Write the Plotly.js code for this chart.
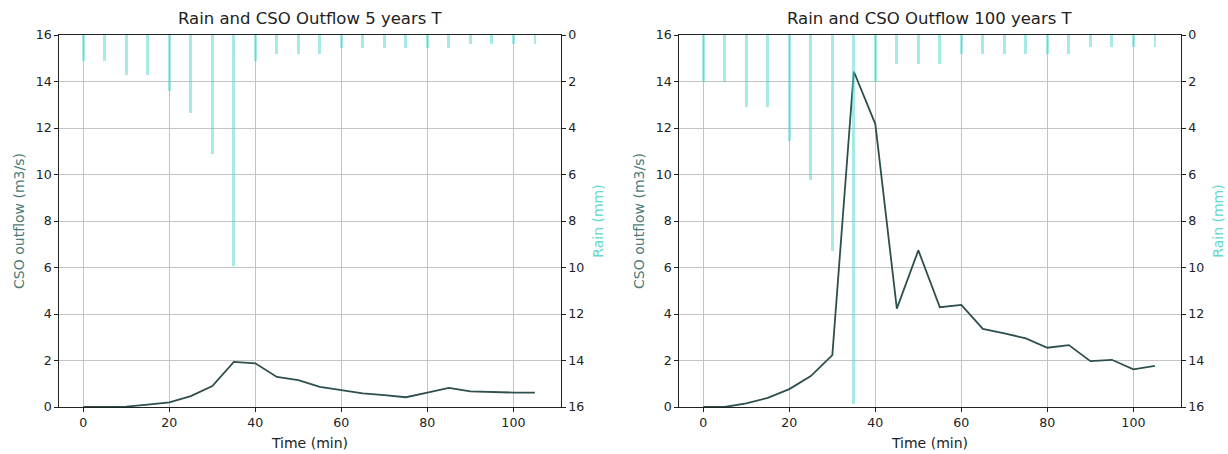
<!DOCTYPE html>
<html>
<head>
<meta charset="utf-8">
<script src="https://cdn.plot.ly/plotly-3.0.1.min.js"></script>
<style>html,body{margin:0;padding:0;background:#fff;}#chart{width:1228px;height:454px;}</style>
</head>
<body>
<div id="chart"></div>
<script>
const time = [0,5,10,15,20,25,30,35,40,45,50,55,60,65,70,75,80,85,90,95,100,105];
const rain5 = [1.1,1.1,1.7,1.7,2.4,3.35,5.1,9.95,1.1,0.8,0.8,0.8,0.57,0.57,0.57,0.57,0.57,0.57,0.39,0.39,0.39,0.39];
const cso5 = [0,0,0.02,0.1,0.2,0.47,0.9,1.94,1.88,1.29,1.16,0.87,0.74,0.59,0.51,0.42,0.62,0.82,0.67,0.64,0.62,0.62];
const rain100 = [2.0,2.0,3.08,3.08,4.54,6.24,9.29,15.88,2.0,1.26,1.26,1.26,0.83,0.83,0.83,0.83,0.83,0.83,0.53,0.53,0.53,0.53];
const cso100 = [0,0,0.16,0.39,0.77,1.33,2.23,14.43,12.17,4.23,6.74,4.29,4.39,3.36,3.17,2.95,2.55,2.66,1.97,2.03,1.62,1.77];
const titles = ["Rain and CSO Outflow 5 years T","Rain and CSO Outflow 100 years T"];
const xTicks = [0,20,40,60,80,100];
const yTicks = [0,2,4,6,8,10,12,14,16];

const lineColor = "#2f4f4f";
const barColor = "rgba(72,214,204,0.48)";
const font = "DejaVu Sans, sans-serif";
const tickSize = 12.6, labelSize = 14, titleSize = 16.5;

function bars(y, xa, ya){ return {type:"bar", x:time, y:y, width:0.65, xaxis:xa, yaxis:ya, marker:{color:barColor, line:{width:0}}, hoverinfo:"skip"}; }
function line(y, xa, ya){ return {type:"scatter", mode:"lines", x:time, y:y, xaxis:xa, yaxis:ya, line:{color:lineColor, width:1.8}}; }

const data = [
  bars(rain5,"x","y2"), line(cso5,"x","y"),
  bars(rain100,"x2","y4"), line(cso100,"x2","y3")
];

const W = 1228;
const d1 = [59.3/W, 560.7/W], d2 = [679.3/W, 1180.7/W];
function xax(dom, anchor){
  return {domain:dom, anchor:anchor, range:[-5.58,111.0], tickvals:xTicks, ticks:"outside", ticklen:4, tickcolor:"#222",
    showgrid:true, gridcolor:"#c4c4c4", gridwidth:1, zeroline:false, showline:true, linecolor:"#222", linewidth:1, mirror:true,
    tickfont:{size:tickSize, color:"#222", family:font},
    title:{text:"Time (min)", font:{size:labelSize, color:"#222", family:font}, standoff:9}};
}
function yleft(anchor){
  return {anchor:anchor, range:[0,16], tickvals:yTicks, ticks:"outside", ticklen:4, tickcolor:"#222",
    showgrid:true, gridcolor:"#c4c4c4", zeroline:false, showline:true, linecolor:"#222", linewidth:1,
    tickfont:{size:tickSize, color:"#222", family:font},
    title:{text:"CSO outflow (m3/s)", font:{size:labelSize, color:"#4d7b79", family:font}, standoff:7}};
}
function yright(anchor, over){
  return {anchor:anchor, overlaying:over, side:"right", range:[16,0], tickvals:yTicks, ticks:"outside", ticklen:4, tickcolor:"#222",
    showgrid:false, zeroline:false, showline:true, linecolor:"#222", linewidth:1,
    tickfont:{size:tickSize, color:"#222", family:font},
    title:{text:"Rain (mm)", font:{size:labelSize, color:"#5fd9d2", family:font}, standoff:9}};
}

const layout = {
  width:1228, height:454, paper_bgcolor:"#fff", plot_bgcolor:"#fff",
  margin:{l:0, r:0, t:35, b:47}, showlegend:false, bargap:0,
  font:{family:font},
  xaxis: xax(d1,"y"), xaxis2: xax(d2,"y3"),
  yaxis: yleft("x"), yaxis2: yright("x","y"),
  yaxis3: yleft("x2"), yaxis4: yright("x2","y3"),
  annotations: titles.map((t,i)=>({text:t, xref:"paper", yref:"paper", x:(i?(d2[0]+d2[1]):(d1[0]+d1[1]))/2, y:1, yshift:5,
    xanchor:"center", yanchor:"bottom", showarrow:false, font:{size:titleSize, color:"#222", family:font}}))
};

Plotly.newPlot("chart", data, layout, {staticPlot:true, displayModeBar:false});
</script>
</body>
</html>
